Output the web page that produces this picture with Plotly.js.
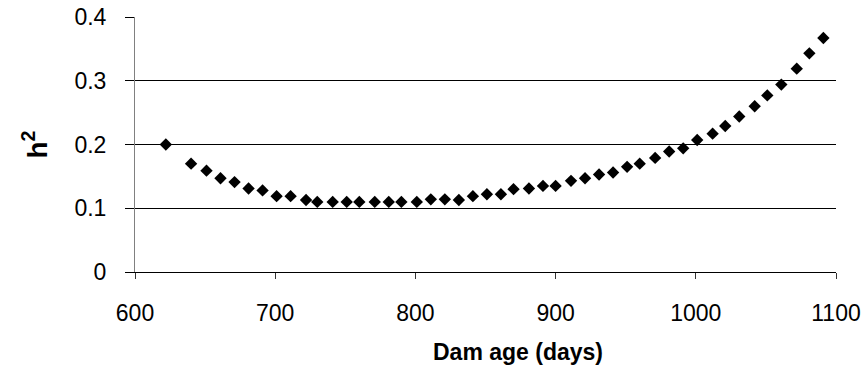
<!DOCTYPE html>
<html>
<head>
<meta charset="utf-8">
<script src="https://cdn.plot.ly/plotly-3.0.1.min.js"></script>
<style>
html,body{margin:0;padding:0;background:#fff;}
#chart{width:863px;height:369px;}
</style>
</head>
<body>
<div id="chart"></div>
<script>
var damAge = [622, 640, 651, 661, 671, 681, 691, 701, 711, 722, 730, 741, 751, 760, 771, 781, 790, 801, 811, 821, 831, 841, 851, 861, 870, 881, 891, 900, 911, 921, 931, 941, 951, 960, 971, 981, 991, 1001, 1012, 1021, 1031, 1042, 1051, 1061, 1072, 1081, 1091];
var heritability = [0.200, 0.170, 0.159, 0.147, 0.141, 0.131, 0.128, 0.119, 0.119, 0.113, 0.110, 0.110, 0.110, 0.110, 0.110, 0.110, 0.110, 0.110, 0.114, 0.114, 0.113, 0.119, 0.122, 0.122, 0.130, 0.131, 0.135, 0.135, 0.143, 0.147, 0.153, 0.156, 0.165, 0.170, 0.179, 0.189, 0.194, 0.207, 0.217, 0.229, 0.244, 0.260, 0.277, 0.294, 0.319, 0.343, 0.367];
var xTicks = [600, 700, 800, 900, 1000, 1100];
var yTicks = [0, 0.1, 0.2, 0.3, 0.4];
var yTickText = ['0', '0.1', '0.2', '0.3', '0.4'];
var xTitle = 'Dam age (days)';
var yTitle = 'h<sup>2</sup>';

var FONT = 'Arial, "Liberation Sans", sans-serif';

var trace = {
  x: damAge,
  y: heritability,
  type: 'scatter',
  mode: 'markers',
  marker: {symbol: 'diamond', size: 9.5, color: '#000000'},
  hoverinfo: 'x+y',
  showlegend: false
};

var layout = {
  width: 863,
  height: 369,
  margin: {l: 135, r: 27, t: 17, b: 97, pad: 0},
  paper_bgcolor: '#ffffff',
  plot_bgcolor: '#ffffff',
  font: {family: FONT, size: 23, color: '#000000'},
  xaxis: {
    range: [600, 1100],
    tickmode: 'array',
    tickvals: xTicks,
    ticktext: xTicks.map(String),
    showgrid: false,
    zeroline: false,
    showline: true,
    linecolor: '#000000',
    linewidth: 1,
    ticks: 'outside',
    ticklen: 6,
    tickcolor: '#333333',
    tickfont: {family: FONT, size: 23, color: '#000000'},
    ticklabelstandoff: 14,
    fixedrange: true
  },
  yaxis: {
    range: [0, 0.4],
    tickmode: 'array',
    tickvals: yTicks,
    ticktext: yTickText,
    showgrid: true,
    gridcolor: '#000000',
    gridwidth: 1,
    zeroline: false,
    showline: true,
    linecolor: '#808080',
    linewidth: 1,
    ticks: 'outside',
    ticklen: 9,
    tickcolor: '#000000',
    tickfont: {family: FONT, size: 23, color: '#000000'},
    ticklabelstandoff: 14,
    fixedrange: true
  },
  annotations: [
    {
      text: '<b>' + xTitle + '</b>',
      xref: 'paper', yref: 'paper',
      x: 0.547, y: 0,
      xanchor: 'center', yanchor: 'middle',
      yshift: -80,
      showarrow: false,
      font: {family: FONT, size: 23, color: '#000000'}
    },
    {
      text: '<b>' + yTitle + '</b>',
      xref: 'paper', yref: 'paper',
      x: 0, y: 0.5,
      xanchor: 'center', yanchor: 'middle',
      xshift: -100,
      textangle: -90,
      showarrow: false,
      font: {family: FONT, size: 28, color: '#000000'}
    }
  ]
};

Plotly.newPlot('chart', [trace], layout, {displayModeBar: false, staticPlot: true});
</script>
</body>
</html>
